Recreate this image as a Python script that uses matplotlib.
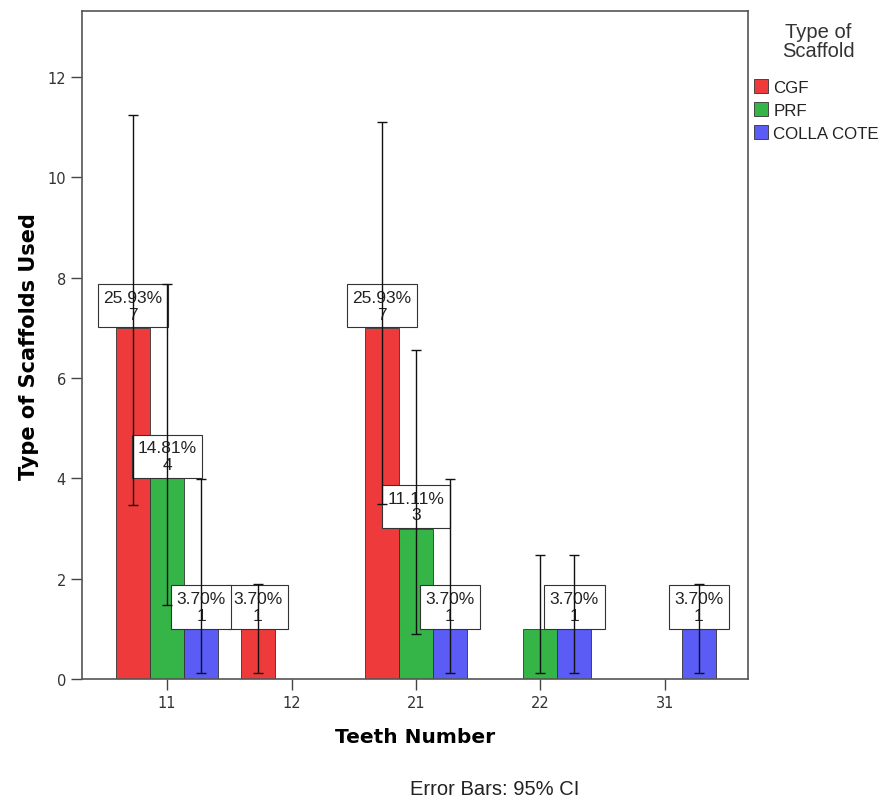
import numpy as np
import matplotlib
matplotlib.use('Agg')
import matplotlib.pyplot as plt
from matplotlib.patches import Patch

# teeth numbers on the x axis
teeth = ['11', '12', '21', '22', '31']
scaffolds = ['CGF', 'PRF', 'COLLA COTE']
total_n = 27

# counts per scaffold (nan = no bar)
cgf = [7, 1, 7, np.nan, np.nan]
prf = [4, np.nan, 3, 1, np.nan]
colla = [1, np.nan, 1, 1, 1]

# which bars carry a label box (the PRF box at 22 is hidden in the original)
cgf_lab = [True, True, True, False, False]
prf_lab = [True, False, True, False, False]
colla_lab = [True, False, True, True, True]

# 95% CI (lower, upper)
cgf_lo = [3.47, 0.12, 3.49, np.nan, np.nan]
cgf_hi = [11.23, 1.89, 11.10, np.nan, np.nan]
prf_lo = [1.48, np.nan, 0.90, 0.12, np.nan]
prf_hi = [7.87, np.nan, 6.56, 2.47, np.nan]
colla_lo = [0.12, np.nan, 0.12, 0.12, 0.12]
colla_hi = [3.99, np.nan, 3.99, 2.47, 1.89]

colors = ['#ef3a3c', '#35b548', '#5a5cf5']

fig = plt.figure(figsize=(8.82, 8.04), dpi=100)
ax = fig.add_axes([0.093, 0.154, 0.755, 0.831])

x = np.arange(len(teeth))
w = 0.273
series = [(cgf, cgf_lo, cgf_hi, cgf_lab), (prf, prf_lo, prf_hi, prf_lab),
          (colla, colla_lo, colla_hi, colla_lab)]

for i, (vals, lo, hi, lab) in enumerate(series):
    vals = np.array(vals, dtype=float)
    lo = np.array(lo, dtype=float)
    hi = np.array(hi, dtype=float)
    xs = x + (i - 1) * w
    ok = ~np.isnan(vals)
    ax.bar(xs[ok], vals[ok], width=w, color=colors[i], edgecolor='#333333',
           linewidth=0.6, zorder=2)
    # label boxes
    for xi, v, show in zip(xs, vals, lab):
        if not show:
            continue
        lbl = '%.2f%%\n%d' % (v / total_n * 100, v)
        ax.annotate(lbl, (xi, v), xytext=(0, 4.4), textcoords='offset points',
                    ha='center', va='bottom', fontsize=12.5, family='Liberation Sans',
                    color='#222222', linespacing=1.15, zorder=3,
                    bbox=dict(boxstyle='square,pad=0.33', fc='white', ec='#333333', lw=0.8))
    ax.errorbar(xs[ok], vals[ok], yerr=[vals[ok] - lo[ok], hi[ok] - vals[ok]],
                fmt='none', ecolor='#111111', elinewidth=1.0, capsize=3.5,
                capthick=1.0, zorder=5)

ax.set_xlim(-0.683, 4.667)
ax.set_ylim(0, 13.31)
ax.set_xticks(x)
ax.set_xticklabels(teeth)
ax.set_yticks(np.arange(0, 13, 2))
ax.tick_params(axis='both', direction='out', length=8, width=1, color='#444444',
               labelsize=10.5, labelcolor='#333333')
for sp in ax.spines.values():
    sp.set_color('#555555')
    sp.set_linewidth(1.2)

ax.set_xlabel('Teeth Number', fontsize=14.5, fontweight='bold', labelpad=12)
ax.set_ylabel('Type of Scaffolds Used', fontsize=15, fontweight='bold', labelpad=6)

fig.text(0.561, 1 - 790 / 804, 'Error Bars: 95% CI', ha='center', va='center',
         fontsize=14.5, family='Liberation Sans', color='#222222')

# legend title drawn separately so the entries sit lower, like the original
fig.text(818 / 882, 1 - 42 / 804, 'Type of\nScaffold', ha='center', va='center',
         fontsize=14.5, family='Liberation Sans', color='#333333', linespacing=0.95)
handles = [Patch(facecolor=c, edgecolor='#333333', lw=0.6) for c in colors]
leg = fig.legend(handles, scaffolds, loc='upper left',
                 bbox_to_anchor=(754 / 882, 1 - 80 / 804), frameon=False,
                 handlelength=0.85, handleheight=0.9, handletextpad=0.3,
                 labelspacing=0.42, borderaxespad=0.0, borderpad=0.0,
                 prop={'family': 'Liberation Sans', 'size': 12.2})
for t in leg.get_texts():
    t.set_color('#222222')

fig.savefig('out.png', dpi=100)
